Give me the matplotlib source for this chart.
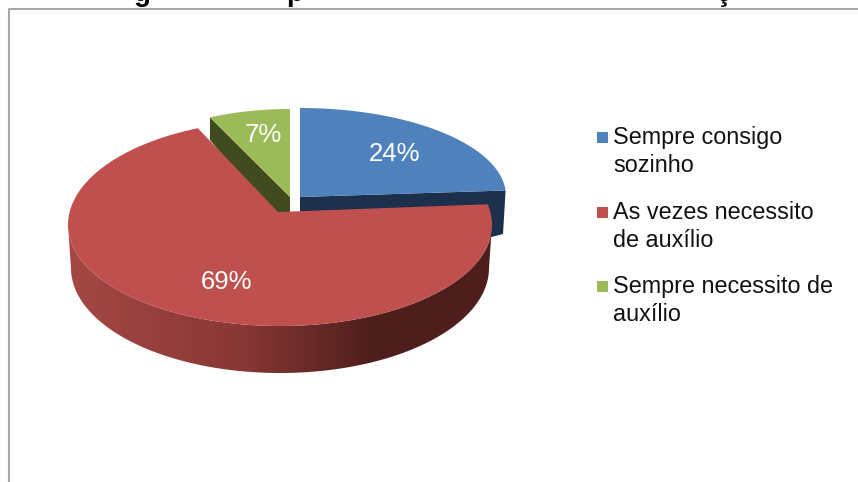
import numpy as np
import matplotlib
matplotlib.use("Agg")
import matplotlib.pyplot as plt
from matplotlib.patches import Polygon, Rectangle
from matplotlib.colors import LinearSegmentedColormap

plt.rcParams['font.family'] = ['Liberation Sans', 'DejaVu Sans']

categorias = ["Sempre consigo\nsozinho", "As vezes necessito\nde auxílio", "Sempre necessito de\nauxílio"]
valores = [24, 69, 7]
cores = ['#4F81BD', '#C0504D', '#9BBB59']
titulo_pedacos = ["g", "p", "ç"]


def arco(cx, cy, rx, ry, a0, a1, n=200):
    # angulos em graus, sentido horario a partir do topo
    t = np.radians(np.linspace(a0, a1, n))
    return np.column_stack([cx + rx * np.sin(t), cy - ry * np.cos(t)])


fig = plt.figure(figsize=(8.58, 4.82), dpi=100)
ax = fig.add_axes([0, 0, 1, 1])
ax.set_axis_off()

# angulos de cada fatia a partir dos valores
fim = np.cumsum(valores) / sum(valores) * 360
inicio = np.concatenate([[0], fim[:-1]])

# moldura
ax.plot([9, 9, 858], [482, 9, 9], color='#a6a6a6', lw=1.5, zorder=1)

# restos do titulo cortado no topo
for letra, xt in zip(titulo_pedacos, [142, 295, 724]):
    ax.text(xt, 1, letra, fontsize=20, fontweight='bold', color='black', ha='center', va='baseline', zorder=1)

# paredes escuras
pa = arco(300, 196, 206, 88, inicio[0], fim[0])[-1]
ax.add_patch(Polygon([(300, 197), pa, (503, 234), (480, 240), (300, 212)], color='#1C304C', lw=0, zorder=2))
pv = arco(290, 197, 188, 88, inicio[2], fim[2])[0]
ax.add_patch(Polygon([pv, (290, 197), (290, 212), (270, 212), (210, 140)], color='#404C20', lw=0, zorder=2))

# topo azul e verde
ax.add_patch(Polygon(np.vstack([[(300, 197)], arco(300, 196, 206, 88, inicio[0], fim[0])]), color=cores[0], lw=0, zorder=3))
ax.add_patch(Polygon(np.vstack([[(290, 197)], arco(290, 197, 188, 88, inicio[2], fim[2])]), color=cores[2], lw=0, zorder=3))

# parede vermelha com degrade
topo = arco(280, 225, 212, 101, 90, 270)
baixo = arco(280, 268, 209, 105, 270, 90)
parede = Polygon(np.vstack([topo, baixo]), transform=ax.transData, fc='none', lw=0)
ax.add_patch(parede)
cmap = LinearSegmentedColormap.from_list('parede', [(0, '#A54844'), (0.42, '#873735'), (0.72, '#4E1E1C'), (1, '#4E1E1C')])
img = ax.imshow(np.linspace(0, 1, 256).reshape(1, -1), cmap=cmap, extent=(67, 492, 373, 225), aspect='auto', zorder=4)
img.set_clip_path(parede)

# topo vermelho (deslocamentos por causa da perspectiva, metade de cima um pouco mais alta)
borda = np.vstack([
    arco(280, 225, 212, 105, inicio[1] - 7.8, 90, 40),
    arco(280, 225, 212, 101, 90, 270),
    arco(280, 225, 212, 105, 270, fim[1] + 2.4, 60),
])
ax.add_patch(Polygon(np.vstack([[(278, 212)], borda]), color=cores[1], lw=0, zorder=5))

# rotulos
for v, (xr, yr) in zip(valores, [(394, 154), (227, 282), (263, 135)]):
    ax.text(xr, yr, f"{v}%", fontsize=18.5, color='white', ha='center', va='center', zorder=6)

# legenda
for cat, cor, yl in zip(categorias, cores, [137, 212, 286]):
    ax.add_patch(Rectangle((597, yl - 5), 11, 11, color=cor, lw=0, zorder=6))
    ax.text(613, yl - 11, cat, fontsize=16.8, color='#111111', ha='left', va='top', linespacing=1.28, zorder=6)

ax.set_xlim(0, 858)
ax.set_ylim(482, 0)
fig.savefig('out.png', dpi=100)
